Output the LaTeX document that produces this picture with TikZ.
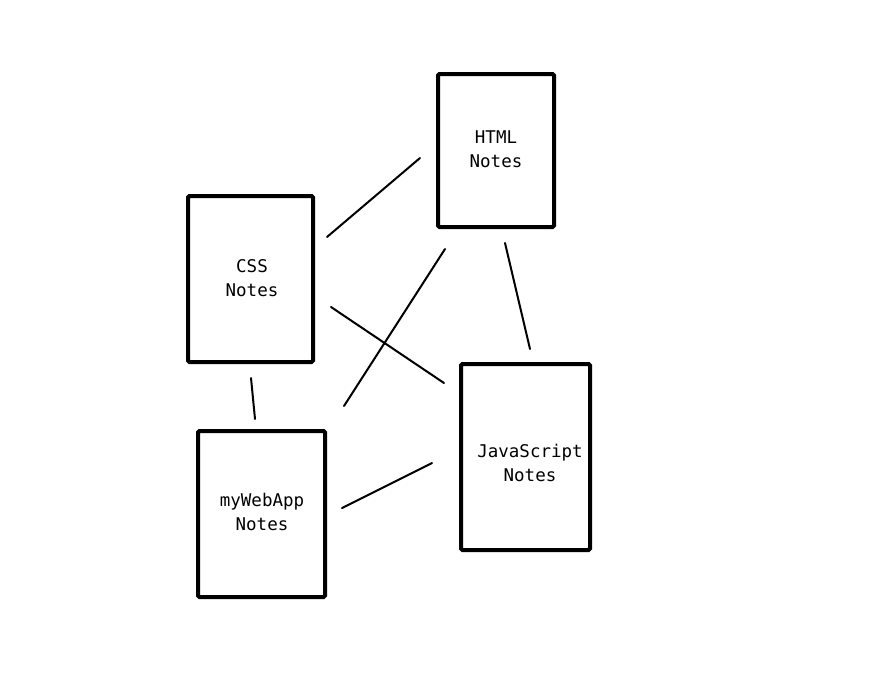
\documentclass[tikz,border=0pt]{standalone}
\usepackage{fontspec}
\setmonofont{DejaVu Sans Mono}
\begin{document}
\begin{tikzpicture}[x=1pt,y=-1pt,
  notebox/.style={draw=black,line width=4pt,rounded corners=1.5pt,inner sep=0pt},
  notetext/.style={font=\ttfamily\fontsize{17.5}{24}\selectfont,align=center,inner sep=0pt},
  link/.style={draw=black,line width=2pt,line cap=round}]
\useasboundingbox[fill=white] (0,0) rectangle (880,683);
% boxes
\node[notebox,minimum width=116pt,minimum height=153pt] (html) at (496,150.5) {};
\node[notebox,minimum width=125pt,minimum height=166pt] (css) at (250.5,279) {};
\node[notebox,minimum width=129pt,minimum height=186pt] (js) at (525.5,457) {};
\node[notebox,minimum width=127pt,minimum height=166pt] (app) at (261.5,514) {};
% texts
\node[notetext] (htmlt) at (496,149) {HTML\\Notes};
\node[notetext] (csst) at (252,278) {CSS\\Notes};
\node[notetext] (jst) at (530,463) {JavaScript\\Notes};
\node[notetext] (appt) at (262,512) {myWebApp\\Notes};
% connector end points
\coordinate (a1) at (327,237); \coordinate (a2) at (420,158);
\coordinate (b1) at (331,307); \coordinate (b2) at (444,383);
\coordinate (c1) at (445,249); \coordinate (c2) at (344,406);
\coordinate (d1) at (505,243); \coordinate (d2) at (530,349);
\coordinate (e1) at (251,378); \coordinate (e2) at (255,419);
\coordinate (f1) at (342,508); \coordinate (f2) at (432,463);
\draw[link] (a1) -- (a2);
\draw[link] (b1) -- (b2);
\draw[link] (c1) -- (c2);
\draw[link] (d1) -- (d2);
\draw[link] (e1) -- (e2);
\draw[link] (f1) -- (f2);
\end{tikzpicture}
\end{document}
